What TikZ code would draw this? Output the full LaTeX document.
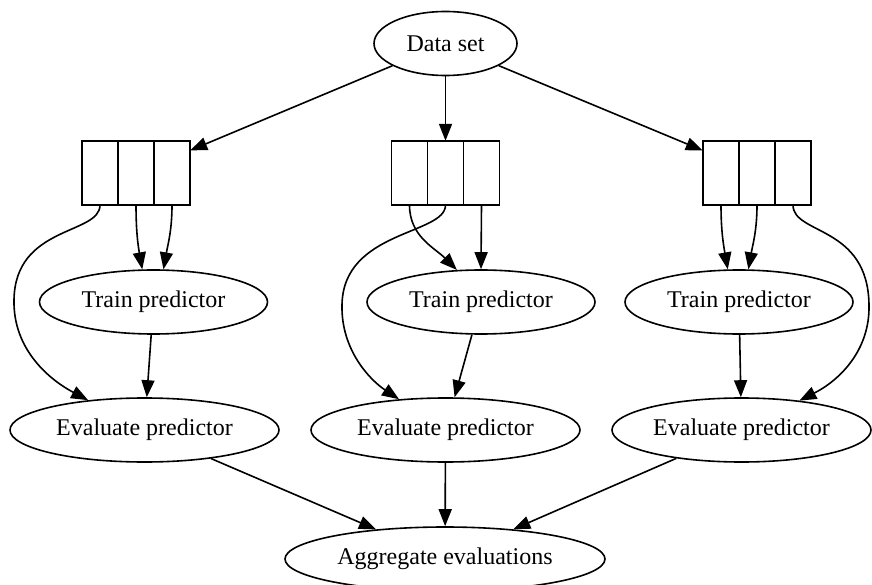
\documentclass[tikz,border=0pt]{standalone}
\usepackage{fontspec}
\setmainfont{Liberation Serif}
\usetikzlibrary{arrows.meta,shapes.geometric,fit,positioning}
\tikzset{
  oval/.style={draw, ellipse, line width=1.6pt, inner sep=0pt, minimum height=64pt},
  cell/.style={draw, rectangle, line width=1.6pt, outer sep=0pt, minimum width=36pt, minimum height=64pt},
  edge/.style={line width=1.6pt, -{Triangle[length=17pt,width=13pt]}},
}
\begin{document}
\begin{tikzpicture}[x=1pt, y=-1pt, font=\fontsize{24}{29}\selectfont]
  \useasboundingbox (0,0) rectangle (872,585);

  \coordinate (L) at (14,300);
  \coordinate (M) at (342,305);
  \coordinate (R) at (869,305);

  \node[oval, minimum width=143pt] (data) at (445.5,43.5) {Data set};
  \node[oval, minimum width=320pt] (agg) at (445,559) {Aggregate evaluations};

  \foreach \i/\xs/\xt/\xe/\we in {1/136/153.5/144.5/269, 2/445.5/481/445.5/269, 3/757/739/741.5/259}
  {
    \node[cell] (s\i-b) at (\xs,173) {};
    \node[cell, left=0pt of s\i-b] (s\i-a) {};
    \node[cell, right=0pt of s\i-b] (s\i-c) {};
    \node[fit=(s\i-a)(s\i-c), inner sep=0pt] (split\i) {};
    \node[oval, minimum width=228pt] (train\i) at (\xt,302) {Train predictor};
    \node[oval, minimum width=\we pt] (eval\i) at (\xe,430) {Evaluate predictor};
    \draw[edge] (data) -- (split\i);
    \draw[edge] (train\i) -- (eval\i);
    \draw[edge] (eval\i) -- (agg);
  }

  % folds into training
  \draw[edge] (s1-b.south) to[out=-90,in=100] (train1.109);
  \draw[edge] (s1-c.south) to[out=-90,in=80] (train1.73);
  \draw[edge] (s2-a.south) to[out=-90,in=135] (train2.127);
  \draw[edge] (s2-c.south) -- (train2.north);
  \draw[edge] (s3-a.south) to[out=-90,in=100] (train3.109);
  \draw[edge] (s3-b.south) to[out=-90,in=80] (train3.74);

  % held-out folds
  \draw[edge] (s1-a.south) .. controls +(0,30) and (15,225) .. (L) .. controls (13,350) and (50,380) .. (eval1);
  \draw[edge] (s2-b.south) .. controls +(0,30) and (343,230) .. (M) .. controls (341,350) and (370,380) .. (eval2);
  \draw[edge] (s3-c.south) .. controls +(0,30) and (868,225) .. (R) .. controls (870,350) and (840,380) .. (eval3);
\end{tikzpicture}
\end{document}
